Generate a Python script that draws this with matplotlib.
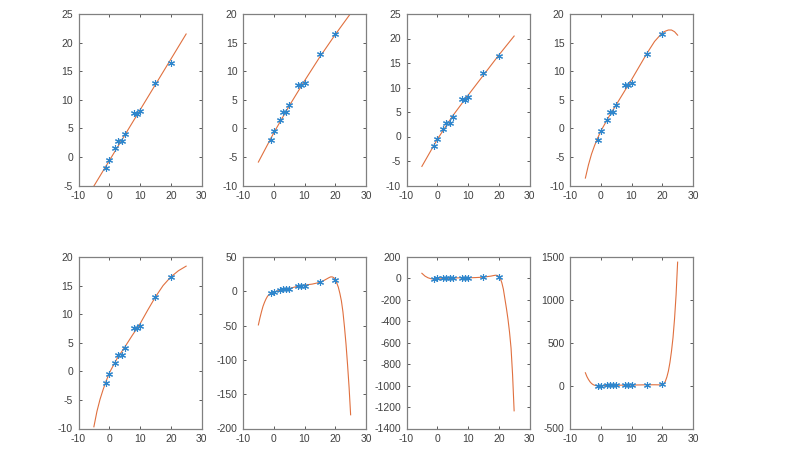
import matplotlib
matplotlib.use('Agg')
import matplotlib.pyplot as plt

plt.rcParams['font.family'] = ['Liberation Sans', 'DejaVu Sans']
plt.rcParams['axes.unicode_minus'] = False

# measured points (same in every panel)
data_x = [-1, 0, 2, 3, 4, 5, 8, 9, 10, 15, 20]
data_y = [-2.0, -0.5, 1.5, 2.8, 2.8, 4.0, 7.6, 7.5, 8.0, 13.0, 16.5]

# fitted curves (degree 1 .. 8)
fit1_x = [-5, 25]
fit1_y = [-5.1, 21.5]

fit2_x = [-5, 0, 5, 10, 15, 20, 25]
fit2_y = [-5.9, -0.8, 3.9, 8.3, 12.5, 16.4, 20.1]

fit3_x = [-5, 0, 5, 10, 15, 20, 25]
fit3_y = [-6.1, -0.6, 4.2, 8.4, 12.5, 16.6, 20.5]

fit4_x = [-5, -4, -3, -2, -1, 0, 2.5, 5, 7.5, 10, 12.5, 15, 17.5, 20, 21, 22, 23, 24, 25]
fit4_y = [-8.7, -6.4, -4.5, -3.0, -1.7, -0.5, 1.9, 4.1, 6.3, 8.5, 10.8, 13.1, 15.2, 16.7, 17.0, 17.2, 17.2, 16.9, 16.3]

fit5_x = [-5, -4, -3, -2, -1, 0, 2.5, 5, 7.5, 10, 12.5, 15, 17.5, 20, 22.5, 25]
fit5_y = [-9.7, -7.0, -4.9, -3.2, -1.7, -0.3, 2.2, 4.2, 6.3, 8.3, 10.7, 13.0, 15.0, 16.5, 17.6, 18.4]

fit6_x = [-5, -4.5, -4, -3.5, -3, -2.5, -2, -1, 0, 2.5, 5, 7.5, 10, 12.5, 15, 16, 17, 18,
          18.5, 19, 19.5, 20, 20.5, 21, 21.5, 22, 22.5, 23, 23.5, 24, 24.5, 25]
fit6_y = [-49, -39, -30, -22, -16, -11, -7, -3, -1, 2, 4, 7, 9, 10.5, 13, 15, 17.5, 20,
          21, 21, 20, 17, 12, 6, -3, -14, -30, -52, -77, -107, -140, -180]

fit7_x = [-5, -4, -3, -2, -1, 0, 2.5, 5, 7.5, 10, 12.5, 15, 17.5, 18.5, 19, 19.5, 20,
          20.5, 21, 21.5, 22, 22.5, 23, 23.5, 24, 24.5, 25]
fit7_y = [48, 22, 6, -3, -6, -6, 0, 4, 6, 6, 8, 12, 22, 28, 30, 28, 18,
          0, -40, -100, -190, -280, -380, -500, -650, -900, -1235]

fit8_x = [-5, -4.5, -4, -3.5, -3, -2.5, -2, -1, 0, 2.5, 5, 7.5, 10, 12.5, 15, 17.5, 20,
          20.5, 21, 21.5, 22, 22.5, 23, 23.5, 24, 24.5, 25]
fit8_y = [150, 105, 72, 45, 25, 12, 4, -3, -2, 2, 4, 6, 7, 8, 10, 10, 8,
          20, 50, 100, 170, 270, 400, 560, 780, 1060, 1440]

fits = [(fit1_x, fit1_y), (fit2_x, fit2_y), (fit3_x, fit3_y), (fit4_x, fit4_y),
        (fit5_x, fit5_y), (fit6_x, fit6_y), (fit7_x, fit7_y), (fit8_x, fit8_y)]

y_limits = [(-5, 25), (-10, 20), (-10, 25), (-10, 20),
            (-10, 20), (-200, 50), (-1400, 200), (-500, 1500)]
y_steps = [5, 5, 5, 5, 5, 50, 200, 500]

fig = plt.figure(figsize=(8.1, 4.54), dpi=100)

lefts = [78.5, 243, 406.5, 570]
tops = [14, 257]
w, h = 123, 171.5
axis_col = '#404040'

for i, (fx, fy) in enumerate(fits):
    r, c = divmod(i, 4)
    ax = fig.add_axes([lefts[c] / 810, 1 - (tops[r] + h) / 454, w / 810, h / 454])
    ax.plot(fx, fy, color='#E0703F', lw=0.8)
    ax.plot(data_x, data_y, ls='none', marker=(6, 2, 0), ms=5, mew=0.8,
            color='#2F86CC')
    ax.set_xlim(-10, 30)
    ax.set_xticks(range(-10, 31, 10))
    lo, hi = y_limits[i]
    ax.set_ylim(lo, hi)
    ax.set_yticks(range(lo, hi + 1, y_steps[i]))
    ax.tick_params(direction='in', top=True, right=True, length=2.5, width=0.6,
                   labelsize=7.5, colors=axis_col, labelcolor=axis_col, pad=4)
    for s in ax.spines.values():
        s.set_color('#808080')
        s.set_linewidth(0.9)

fig.savefig('out.png', dpi=100)
